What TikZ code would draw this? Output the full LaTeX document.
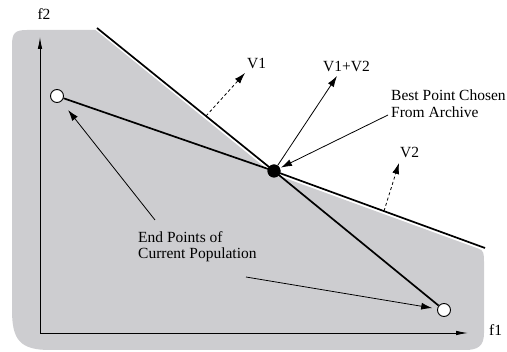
\documentclass[tikz,border=0pt]{standalone}
\usepackage{fontspec}
\setmainfont{Liberation Serif}
\usetikzlibrary{arrows.meta}
\definecolor{regiongray}{RGB}{205,205,208}
\tikzset{
  thickline/.style={line width=1.7pt},
  axis/.style={line width=0.9pt,-{Latex[length=12pt,width=4.5pt]}},
  pointer/.style={line width=0.8pt,-{Latex[length=11pt,width=7pt]}},
  dashpointer/.style={line width=0.8pt,dash pattern=on 3pt off 2.5pt,-{Latex[length=11pt,width=7pt]}},
  opendot/.style={circle,draw,fill=white,line width=0.9pt,minimum size=13pt,inner sep=0pt},
  filldot/.style={circle,fill=black,minimum size=13pt,inner sep=0pt},
  lbl/.style={font=\fontsize{15.5}{16.5}\selectfont,inner sep=0pt,align=left},
}
\begin{document}
\begin{tikzpicture}[x=1pt,y=-1pt]
\useasboundingbox (0,0) rectangle (507,352);
% shaded region
\fill[regiongray] (95.5,30) -- (272.5,173.5) -- (478,248.5)
  .. controls (484,250) and (484,254) .. (484,262)
  -- (484,333) .. controls (484,346) and (478,350) .. (465,350)
  -- (50,350) .. controls (20,350) and (12,340) .. (12,310)
  -- (12,45) .. controls (12,33) and (15,30) .. (27,30) -- cycle;
% axes
\coordinate (O) at (40,333);
\coordinate (Ytop) at (40,37);
\coordinate (Xend) at (468,333);
\draw[axis] (O) -- (Ytop);
\draw[axis] (O) -- (Xend);
\node[lbl,anchor=base] (f2) at (44,20) {f2};
\node[lbl,anchor=base west] (f1) at (489,336) {f1};
% front lines
\coordinate (T1) at (97,28);
\coordinate (T2) at (485,248);
\node[filldot] (D) at (274,171) {};
\draw[thickline] (T1) -- (D.center) -- (T2);
% population line
\node[opendot] (L) at (57,96) {};
\node[opendot] (R) at (444,310) {};
\draw[thickline] (L) -- (D.center) -- (R);
\node[filldot] at (D) {};
% vectors
\coordinate (v1s) at (206,116);
\coordinate (v1e) at (245,73);
\draw[dashpointer] (v1s) -- (v1e);
\node[lbl,anchor=base west] (V1) at (247,69) {V1};
\coordinate (v2s) at (384,211);
\coordinate (v2e) at (399,163);
\draw[dashpointer] (v2s) -- (v2e);
\node[lbl,anchor=base west] (V2) at (400,158) {V2};
\coordinate (v12e) at (337,76);
\draw[pointer] (D) -- (v12e);
\node[lbl,anchor=base west] (V12) at (323,72) {V1+V2};
% best point label
\node[lbl,anchor=north west] (best) at (391,90) {Best Point Chosen\\From Archive};
\coordinate (bs) at (388,115);
\draw[pointer,shorten >=1pt] (bs) -- (D);
% end points label
\node[lbl,anchor=north west] (ends) at (138,231) {End Points of\\Current Population};
\coordinate (e1) at (155,220);
\coordinate (e2) at (246,277);
\draw[pointer,shorten >=11pt] (e1) -- (L);
\draw[pointer,shorten >=5pt] (e2) -- (R);
\end{tikzpicture}
\end{document}
